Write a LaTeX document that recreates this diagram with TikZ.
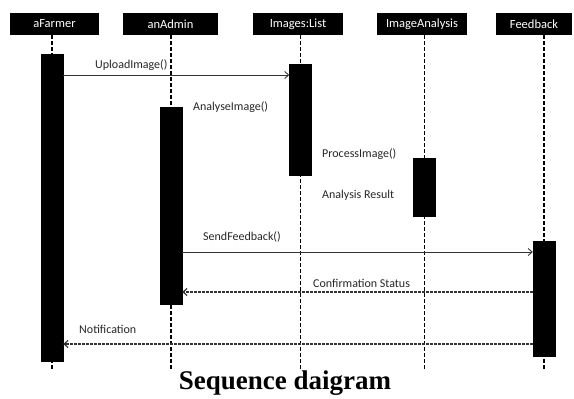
\documentclass[tikz,border=0pt]{standalone}
\usepackage{fontspec}
\setmainfont{Liberation Serif}
\newfontfamily\labelfont{Carlito}
\usetikzlibrary{positioning,calc,arrows.meta}

\begin{document}
\begin{tikzpicture}[x=1pt, y=-1pt]
				\tikzset{
					actor/.style={rectangle, fill=black, text=white, minimum height=22pt, inner sep=0pt, font=\labelfont\fontsize{12.5}{14}\selectfont},
					actbar/.style={rectangle, fill=black, draw=black, minimum width=22pt, inner sep=0pt},
					lifeline/.style={draw=black, line width=1.8pt, dash pattern=on 4pt off 2pt},
					msg/.style={draw=black!80, line width=0.9pt, -{Straight Barb[length=4pt, width=7pt]}},
					reply/.style={draw=black!80, line width=1.1pt, dash pattern=on 2.5pt off 1.5pt, -{Straight Barb[length=4pt, width=7pt]}},
					msglabel/.style={anchor=west, inner sep=0pt, text=black!85, font=\labelfont\fontsize{12}{14}\selectfont}
				}
				\useasboundingbox (0,0) rectangle (574,399);
				
				% Actors
				\node[actor, minimum width=89pt] (farmer) at (54.5,24) {aFarmer};
				\node[actor, minimum width=95pt] (admin) at (170.5,24) {anAdmin};
				\node[actor, minimum width=90pt] (list) at (298,24) {Images:List};
				\node[actor, minimum width=90pt] (analysis) at (422,24) {ImageAnalysis};
				\node[actor, minimum width=76pt] (feedback) at (534,24) {Feedback};
				
				% Activation bars
				\coordinate (bottom) at (0,370);
				\node[actbar, minimum height=307pt] (farmerbar) at (52,207.5) {};
				\node[actbar, minimum height=197pt] (adminbar) at (171,205.5) {};
				\node[actbar, minimum height=111pt] (listbar) at (300.5,119.5) {};
				\node[actbar, minimum height=58pt] (analysisbar) at (424.5,187) {};
				\node[actbar, minimum height=115pt] (feedbackbar) at (544,298.5) {};
				
				% Lifelines
				\draw[lifeline] (farmerbar |- farmer.south) -- (farmerbar |- bottom);
				\draw[lifeline] (adminbar |- admin.south) -- (adminbar |- bottom);
				\draw[lifeline] (listbar |- list.south) -- (listbar |- bottom);
				\draw[lifeline] (analysisbar |- analysis.south) -- (analysisbar |- bottom);
				\draw[lifeline] (feedbackbar |- feedback.south) -- (feedbackbar |- bottom);
				
				% redraw bars over lifelines
				\foreach \b in {farmerbar,adminbar,listbar,analysisbar,feedbackbar}
					\fill (\b.north west) rectangle (\b.south east);
				
				% Messages
				\coordinate (m1) at (0,75);
				\coordinate (m2) at (0,252);
				\coordinate (m3) at (0,292);
				\coordinate (m4) at (0,344);
				\draw[msg] (farmerbar.east |- m1) -- (listbar.west |- m1);
				\draw[msg] (adminbar.east |- m2) -- (feedbackbar.west |- m2);
				\draw[reply] (feedbackbar.west |- m3) -- (adminbar.east |- m3);
				\draw[reply] (feedbackbar.west |- m4) -- (farmerbar.east |- m4);
				
				% Labels
				\node[msglabel] (l1) at (95,65) {UploadImage()};
				\node[msglabel] (l2) at (193,107) {AnalyseImage()};
				\node[msglabel] (l3) at (322,154) {ProcessImage()};
				\node[msglabel] (l4) at (322,195) {Analysis Result};
				\node[msglabel] (l5) at (203,237) {SendFeedback()};
				\node[msglabel] (l6) at (313,283) {Confirmation Status};
				\node[msglabel] (l7) at (79,329) {Notification};
				
				% Caption
				\node[font=\fontsize{27}{30}\selectfont\bfseries] (caption) at (285,383) {Sequence daigram};
			\end{tikzpicture}
\end{document}
